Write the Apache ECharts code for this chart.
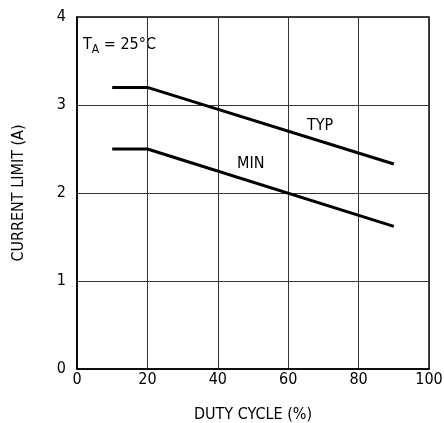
<!DOCTYPE html>
<html><head><meta charset="utf-8">
<script src="https://cdn.jsdelivr.net/npm/echarts@6/dist/echarts.min.js"></script>
<style>html,body{margin:0;padding:0;background:#fff}#c{width:444px;height:423px}</style>
</head><body><div id="c"></div>
<script>
const dutyCycle = [10, 20, 90];
const typLimit = [3.2, 3.2, 2.33];
const minLimit = [2.5, 2.5, 1.62];
const xTicks = [0, 20, 40, 60, 80, 100];
const yTicks = [0, 1, 2, 3, 4];
const FONT = '"DejaVu Sans Condensed", "Liberation Sans Narrow", sans-serif';

const chart = echarts.init(document.getElementById('c'), null, {renderer: 'canvas'});
const axisLine = {show: true, lineStyle: {color: '#000', width: 1.5}};
const split = {show: true, lineStyle: {color: '#333', width: 1}};
chart.setOption({
  animation: false,
  grid: {left: 77, top: 17, width: 352, height: 352, show: true, borderColor: '#000', borderWidth: 1.5,
    containLabel: false, outerBoundsMode: 'none'},
  xAxis: {type: 'value', min: 0, max: 100, interval: 20,
    name: 'DUTY CYCLE (%)', nameLocation: 'middle', nameGap: 38,
    nameTextStyle: {fontFamily: FONT, fontSize: 16, color: '#000'},
    axisLine, axisTick: {show: false}, splitLine: split,
    axisLabel: {fontFamily: FONT, fontSize: 16, color: '#000', margin: 3,
      formatter: v => xTicks.includes(v) ? String(v) : ''}},
  yAxis: {type: 'value', min: 0, max: 4, interval: 1,
    name: 'CURRENT LIMIT (A)', nameLocation: 'middle', nameGap: 50,
    nameTextStyle: {fontFamily: FONT, fontSize: 16, color: '#000'},
    axisLine, axisTick: {show: false}, splitLine: split,
    axisLabel: {fontFamily: FONT, fontSize: 16, color: '#000', margin: 11,
      formatter: v => yTicks.includes(v) ? String(v) : ''}},
  series: [
    {type: 'line', data: dutyCycle.map((x, i) => [x, typLimit[i]]), symbol: 'none',
      lineStyle: {color: '#000', width: 3}},
    {type: 'line', data: dutyCycle.map((x, i) => [x, minLimit[i]]), symbol: 'none',
      lineStyle: {color: '#000', width: 3}}
  ],
  graphic: [
    {type: 'text', left: 307, top: 118, style: {text: 'TYP', font: '16px ' + FONT, fill: '#000'}},
    {type: 'text', left: 237, top: 156, style: {text: 'MIN', font: '16px ' + FONT, fill: '#000'}},
    {type: 'text', left: 83, top: 37, style: {
      text: '{t|T}{s|A}{t| = 25°C}',
      rich: {t: {font: '16px ' + FONT, fill: '#000'}, s: {font: '12px ' + FONT, fill: '#000', padding: [9, 0, 0, 0]}}}}
  ]
});
</script></body></html>
